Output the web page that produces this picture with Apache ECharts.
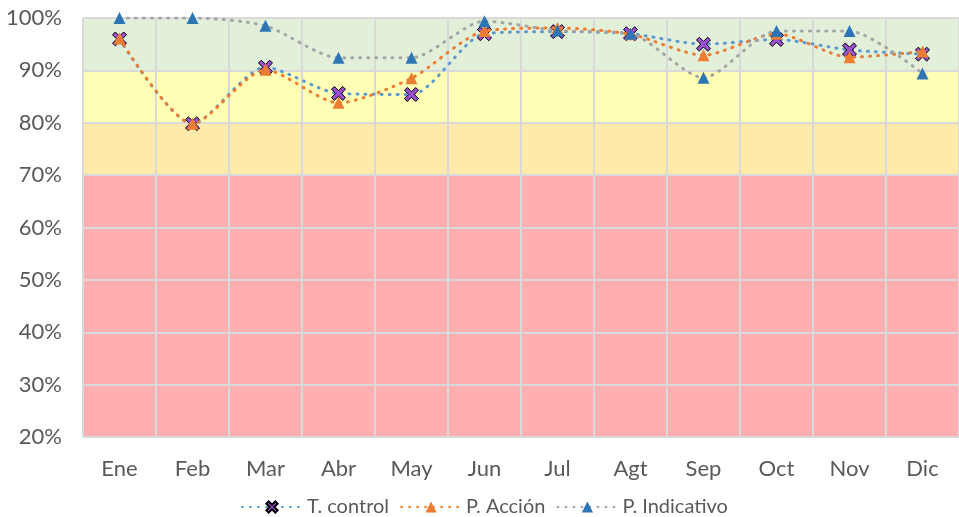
<!DOCTYPE html>
<html>
<head>
<meta charset="utf-8">
<script src="https://cdn.jsdelivr.net/npm/echarts@6/dist/echarts.min.js"></script>
<style>html,body{margin:0;padding:0;background:#fff}#c{width:959px;height:517px}</style>
</head>
<body>
<div id="c"></div>
<script>
const categories = ['Ene','Feb','Mar','Abr','May','Jun','Jul','Agt','Sep','Oct','Nov','Dic'];
const tControl = [96.0, 79.8, 90.6, 85.6, 85.4, 97.0, 97.4, 97.0, 95.0, 95.9, 93.9, 93.1];
const pAccion = [96.1, 79.8, 90.1, 83.8, 88.5, 97.5, 98.1, 96.9, 92.9, 97.0, 92.5, 93.6];
const pIndicativo = [100, 100, 98.5, 92.4, 92.4, 99.4, 97.6, 97.0, 88.6, 97.5, 97.5, 89.4];
const seriesNames = ['T. control', 'P. Acción', 'P. Indicativo'];
const yTicks = {min: 20, max: 100, step: 10};

const font = 'Lato';
const starPath = 'path://M0,2 L2,0 L5,3 L8,0 L10,2 L7,5 L10,8 L8,10 L5,7 L2,10 L0,8 L3,5 Z';

const chart = echarts.init(document.getElementById('c'), null, {renderer: 'canvas'});
chart.setOption({
  animation: false,
  backgroundColor: '#ffffff',
  grid: {left: 83, top: 18, right: -11, bottom: 80},
  legend: {
    left: 236, top: 492,
    itemWidth: 60, itemHeight: 14, itemGap: 11,
    textStyle: {fontFamily: font, fontSize: 20, color: '#595959'},
    data: seriesNames
  },
  xAxis: {
    type: 'category', data: categories, boundaryGap: true, z: 1,
    axisLine: {lineStyle: {color: '#d9d9d9', width: 2}},
    axisTick: {show: false},
    axisLabel: {fontFamily: font, fontSize: 22, color: '#595959', margin: 21},
    splitLine: {show: true, lineStyle: {color: '#d9d9d9', width: 2}}
  },
  yAxis: {
    type: 'value', min: yTicks.min, max: yTicks.max, interval: yTicks.step, z: 1,
    axisLine: {show: false}, axisTick: {show: false},
    axisLabel: {fontFamily: font, fontSize: 22, color: '#595959', margin: 21, formatter: '{value}%'},
    splitLine: {show: true, lineStyle: {color: '#d9d9d9', width: 2}},
    splitArea: {show: true, areaStyle: {color: ['#ffafaf','#ffafaf','#ffafaf','#ffafaf','#ffafaf','#ffe9ab','#ffffb5','#e2efd9'], opacity: 1}}
  },
  series: [
    {
      name: seriesNames[0], type: 'line', data: tControl, smooth: 0.25, z: 3,
      symbol: starPath, symbolSize: 14,
      itemStyle: {color: '#9b4fd0', borderColor: '#000', borderWidth: 1},
      lineStyle: {color: '#5b9bd5', width: 3, type: [1, 7], cap: 'round'}
    },
    {
      name: seriesNames[1], type: 'line', data: pAccion, smooth: 0.25, z: 4,
      symbol: 'triangle', symbolSize: 12,
      itemStyle: {color: '#ed7d31'},
      lineStyle: {color: '#ed7d31', width: 3, type: [1, 7], cap: 'round'}
    },
    {
      name: seriesNames[2], type: 'line', data: pIndicativo, smooth: 0.25, z: 5,
      symbol: 'triangle', symbolSize: 12,
      itemStyle: {color: '#2e75b6'},
      lineStyle: {color: '#a5a5a5', width: 3, type: [1, 7], cap: 'round'}
    }
  ]
});
</script>
</body>
</html>
